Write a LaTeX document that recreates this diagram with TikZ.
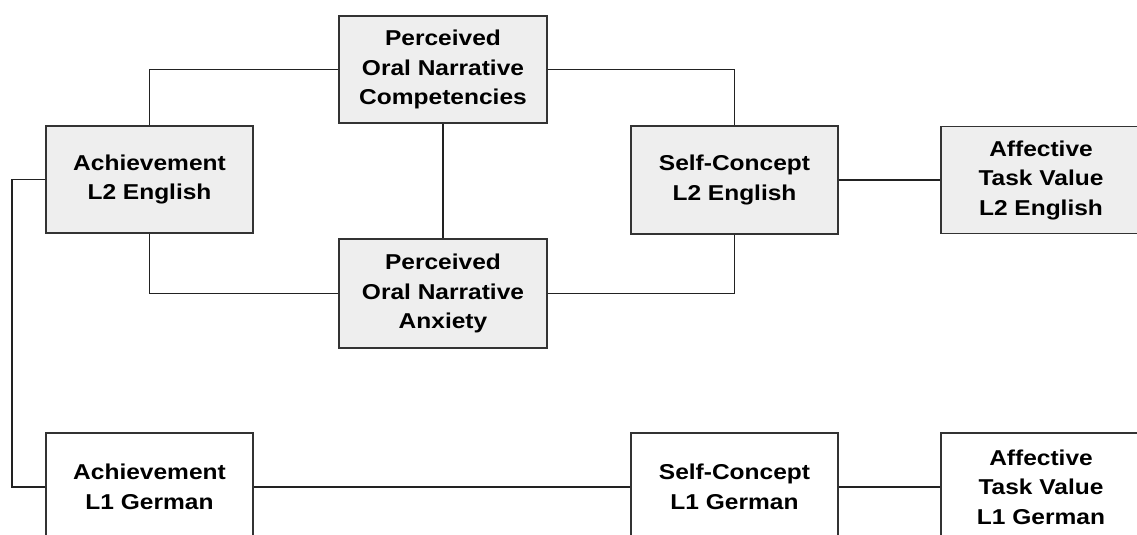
\documentclass[tikz,border=0pt]{standalone}
\usepackage{fontspec}
\setmainfont{Liberation Sans}[FakeStretch=1.14]
\definecolor{boxfill}{HTML}{EEEEEE}
\definecolor{boxline}{HTML}{333333}
\definecolor{wire}{HTML}{222222}
\begin{document}
\begin{tikzpicture}[x=1pt,y=-1pt,
  box/.style={draw=boxline, line width=1.8pt, fill=boxfill, rectangle,
    inner sep=0pt, align=center,
    font=\fontsize{21.5}{29.5}\selectfont\bfseries},
  wbox/.style={box, fill=white},
  link/.style={draw=wire, line width=1.7pt}]
\useasboundingbox (0,0) rectangle (1137,535);
\clip (0,0) rectangle (1137,535);
\node[box, minimum width=208pt, minimum height=107pt] (comp) at (443,69.5) {Perceived\\Oral Narrative\\Competencies};
\node[box, minimum width=207pt, minimum height=107pt] (achL2) at (149.5,179.5) {Achievement\\L2 English};
\node[box, minimum width=207pt, minimum height=108pt] (scL2) at (734.5,180) {Self-Concept\\L2 English};
\node[box, minimum width=200pt, minimum height=107pt] (afL2) at (1041,180) {Affective\\Task Value\\L2 English};
\node[box, minimum width=208pt, minimum height=109pt] (anx) at (443,293.5) {Perceived\\Oral Narrative\\Anxiety};
\node[wbox, minimum width=207pt, minimum height=108pt] (achL1) at (149.5,487) {Achievement\\L1 German};
\node[wbox, minimum width=207pt, minimum height=108pt] (scL1) at (734.5,487) {Self-Concept\\L1 German};
\node[wbox, minimum width=200pt, minimum height=108pt] (afL1) at (1041,487) {Affective\\Task Value\\L1 German};
\coordinate (lft) at (12,179.5);
\draw[link] (achL2.north) |- (comp.west);
\draw[link] (comp.east) -| (scL2.north);
\draw[link] (comp.south) -- (anx.north);
\draw[link] (achL2.south) |- (anx.west);
\draw[link] (anx.east) -| (scL2.south);
\draw[link] (scL2.east) -- (afL2.west);
\draw[link] (achL2.west) -- (lft) |- (achL1.west);
\draw[link] (achL1.east) -- (scL1.west);
\draw[link] (scL1.east) -- (afL1.west);
\end{tikzpicture}
\end{document}
